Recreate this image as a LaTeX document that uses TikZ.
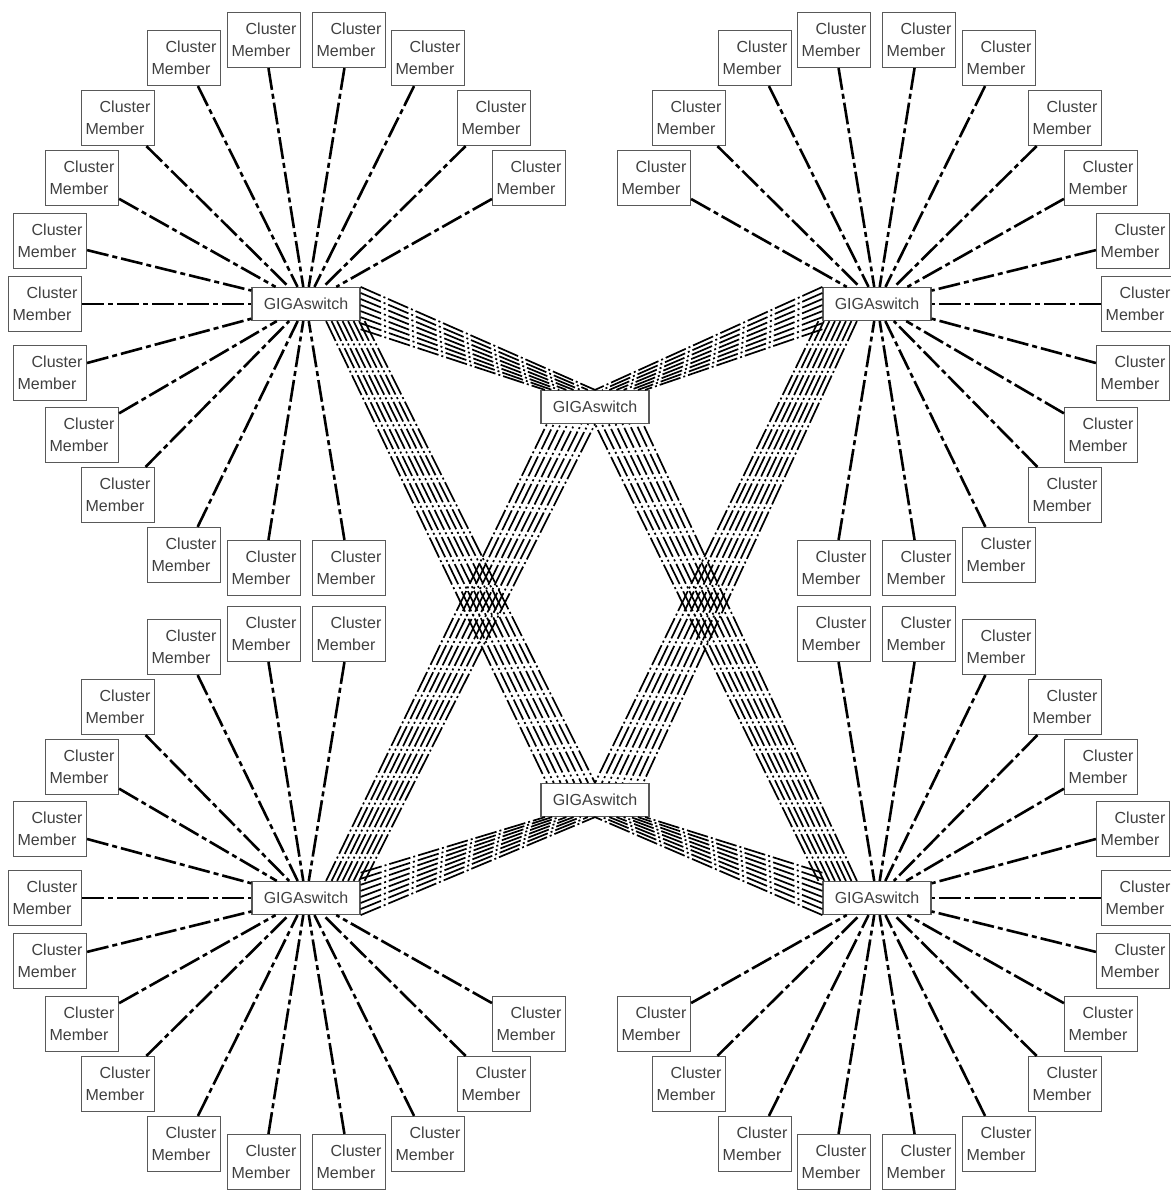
\documentclass[tikz,border=0pt]{standalone}
\usepackage{fontspec}
\setmainfont{Liberation Sans}
\usetikzlibrary{calc}
\tikzset{
  switchbox/.style={rectangle, draw=black!65, line width=1.2pt, fill=white,
                    minimum width=108pt, minimum height=33pt, inner sep=0pt,
                    font=\fontsize{16}{22}\selectfont, text=black!75},
  member/.style={rectangle, draw=black!65, line width=1.2pt, fill=white,
                 minimum width=73pt, minimum height=55pt, inner sep=0pt,
                 align=left, font=\fontsize{16}{22}\selectfont, text=black!75},
  link/.style={line width=2.6pt, dash pattern=on 22pt off 4pt on 5pt off 4pt},
  trunk/.style={line width=1.7pt, dash pattern=on 22pt off 3pt on 2pt off 3pt},
}
\newcommand{\cmtext}{\hspace*{14pt}Cluster\\Member}

\begin{document}
\begin{tikzpicture}[x=1pt, y=-1pt]
\useasboundingbox (0,0) rectangle (1170,1190);

% ── GIGAswitches ─────────────────────────────────────────────────────────────
\node[switchbox] (tl) at (306,304) {GIGAswitch};
\node[switchbox] (tr) at (877,304) {GIGAswitch};
\node[switchbox] (bl) at (306,898) {GIGAswitch};
\node[switchbox] (br) at (877,898) {GIGAswitch};
\node[switchbox] (tc) at (595,407) {GIGAswitch};
\node[switchbox] (bc) at (595,800) {GIGAswitch};

% ── cluster members round each outer switch ──────────────────────────────────
\foreach \sw/\sx/\sy in {tl/1/1, tr/-1/1, bl/1/-1, br/-1/-1} {
  \foreach \dx/\dy [count=\n] in {-122/-246, -42/-264, 43/-264, 122/-246,
                                  188/-186, 223/-126, -188/-186, -224/-126,
                                  -256/-63, -261/0, -256/69, -224/131,
                                  -188/191, -122/251, -42/264, 43/264} {
    \node[member] (\sw m\n) at ($(\sw)+(\sx*\dx,\sy*\dy)$) {\cmtext};
    \draw[link] (\sw m\n) -- (\sw);
  }
}

% ── trunks between the switches ──────────────────────────────────────────────
\foreach \k in {0,...,7} {
  \pgfmathsetmacro\d{5.5*\k}
  % outer switch -> near centre switch
  \draw[trunk] ($(tl.north east)+(0,1.1*\d)$)  -- ($(tc.north)+(-1.3*\d,0)$);
  \draw[trunk] ($(tr.north west)+(0,1.1*\d)$)  -- ($(tc.north)+(1.3*\d,0)$);
  \draw[trunk] ($(bl.south east)+(0,-1.1*\d)$) -- ($(bc.south)+(-1.3*\d,0)$);
  \draw[trunk] ($(br.south west)+(0,-1.1*\d)$) -- ($(bc.south)+(1.3*\d,0)$);
  % outer switch -> far centre switch (crossing)
  \draw[trunk] ($(tl.south east)+(4-\d,0)$) -- ($(bc.north)+(-1.25*\d,0)$);
  \draw[trunk] ($(tr.south west)+(\d-4,0)$) -- ($(bc.north)+(1.25*\d,0)$);
  \draw[trunk] ($(bl.north east)+(4-\d,0)$) -- ($(tc.south)+(-1.25*\d,0)$);
  \draw[trunk] ($(br.north west)+(\d-4,0)$) -- ($(tc.south)+(1.25*\d,0)$);
}

\end{tikzpicture}
\end{document}
